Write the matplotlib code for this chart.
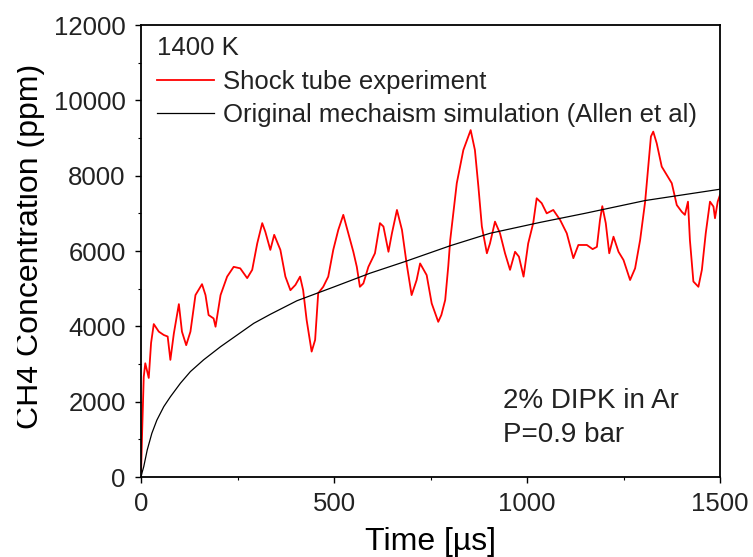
import matplotlib
matplotlib.use("Agg")
import matplotlib.pyplot as plt
from matplotlib.ticker import MultipleLocator
from matplotlib.transforms import Bbox, TransformedBbox

plt.rcParams["font.family"] = ["Liberation Sans", "DejaVu Sans"]

# shock tube experiment (time in us, CH4 in ppm)
exp_time = [0, 3, 7, 11, 20, 26, 33, 46, 59, 69, 76, 85, 98, 106, 117, 128, 141, 158, 167, 175,
            188, 193, 206, 223, 240, 257, 275, 288, 301, 314, 322, 335, 345, 361, 374, 387, 400,
            412, 420, 429, 442, 451, 459, 472, 485, 498, 511, 524, 537, 550, 559, 567, 576, 589,
            606, 619, 628, 641, 650, 663, 676, 688, 701, 714, 723, 740, 753, 770, 778, 788, 796,
            801, 818, 835, 854, 865, 874, 883, 896, 904, 917, 930, 943, 956, 969, 979, 991, 1003,
            1016, 1025, 1038, 1051, 1068, 1086, 1103, 1120, 1133, 1155, 1170, 1181, 1189, 1195,
            1204, 1213, 1224, 1237, 1250, 1267, 1280, 1293, 1306, 1314, 1321, 1327, 1336, 1349,
            1362, 1375, 1388, 1401, 1409, 1417, 1422, 1431, 1444, 1453, 1463, 1474, 1483, 1487,
            1494, 1500]
exp_ch4 = [100, 1250, 2660, 3020, 2630, 3560, 4060, 3860, 3770, 3730, 3110, 3810, 4590, 3860, 3500,
           3860, 4830, 5120, 4830, 4300, 4210, 3990, 4830, 5320, 5580, 5540, 5280, 5500, 6200, 6740,
           6510, 6030, 6430, 6030, 5320, 4960, 5100, 5320, 4960, 4170, 3330, 3640, 4880, 5050, 5320,
           6030, 6560, 6960, 6470, 5980, 5580, 5050, 5140, 5580, 5940, 6740, 6650, 5980, 6470, 7090,
           6560, 5670, 4830, 5230, 5670, 5360, 4610, 4120, 4300, 4700, 5600, 6290, 7800, 8680, 9210,
           8680, 7710, 6650, 5940, 6200, 6780, 6470, 5940, 5500, 5980, 5850, 5320, 6200, 6740, 7400,
           7270, 7000, 7090, 6820, 6470, 5810, 6160, 6160, 6050, 6110, 6820, 7190, 6740, 5940, 6380,
           5980, 5760, 5230, 5540, 6290, 7310, 8240, 9040, 9170, 8860, 8240, 8020, 7800, 7220, 7040,
           6960, 7310, 6290, 5190, 5050, 5500, 6470, 7310, 7180, 6870, 7310, 7490]

# original mechanism simulation
sim_time = [0, 3, 7, 16, 28, 41, 59, 76, 102, 128, 162, 206, 249, 292, 335, 404, 498, 593, 684,
            801, 904, 1034, 1150, 1306, 1500]
sim_ch4 = [0, 130, 275, 717, 1160, 1510, 1870, 2130, 2490, 2800, 3110, 3460, 3770, 4080, 4320,
           4680, 5040, 5410, 5720, 6140, 6470, 6760, 7000, 7340, 7640]

TEXT = "#222222"

fig = plt.figure(figsize=(7.53, 5.57), dpi=100)
ax = fig.add_axes([0.1873, 0.1436, 0.7689, 0.8115])

ax.plot(exp_time, exp_ch4, color="#ff0000", lw=1.3, label="Shock tube experiment")
ax.plot(sim_time, sim_ch4, color="black", lw=0.9, label="Original mechaism simulation (Allen et al)")

ax.set_xlim(0, 1500)
ax.set_ylim(0, 12000)
ax.xaxis.set_major_locator(MultipleLocator(500))
ax.xaxis.set_minor_locator(MultipleLocator(250))
ax.yaxis.set_major_locator(MultipleLocator(2000))
ax.yaxis.set_minor_locator(MultipleLocator(1000))
ax.tick_params(which="major", direction="out", length=4.5, width=1.0, pad=6.5,
               labelsize=18.5, labelcolor=TEXT)
ax.tick_params(which="minor", direction="out", length=2.5, width=0.8)
for s in ax.spines.values():
    s.set_linewidth(1.3)

ax.set_xlabel("Time [\u00b5s]", fontsize=23, color="black", labelpad=7.5)
ylab = ax.set_ylabel("CH4 Concentration (ppm)", fontsize=23, color="black")
ax.yaxis.set_label_coords(-0.166, 0.51)
# the left edge of the label is cut off in the original figure
ylab.set_clip_box(TransformedBbox(Bbox([[17 / 753, 0], [1, 1]]), fig.transFigure))
ylab.set_clip_on(True)

leg = ax.legend(loc="upper left", bbox_to_anchor=(0.028, 0.975), frameon=False, fontsize=18.5,
                title="1400 K", title_fontsize=18.5, alignment="left", handlelength=2.2,
                handletextpad=0.35, labelspacing=0.37, borderpad=0, borderaxespad=0)
for t in leg.get_texts():
    t.set_color(TEXT)
leg.get_title().set_color(TEXT)

ax.text(0.625, 0.153, "2% DIPK in Ar", transform=ax.transAxes, fontsize=20, color=TEXT,
        va="baseline")
ax.text(0.625, 0.077, "P=0.9 bar", transform=ax.transAxes, fontsize=20, color=TEXT,
        va="baseline")

fig.savefig("out.png", dpi=100)
